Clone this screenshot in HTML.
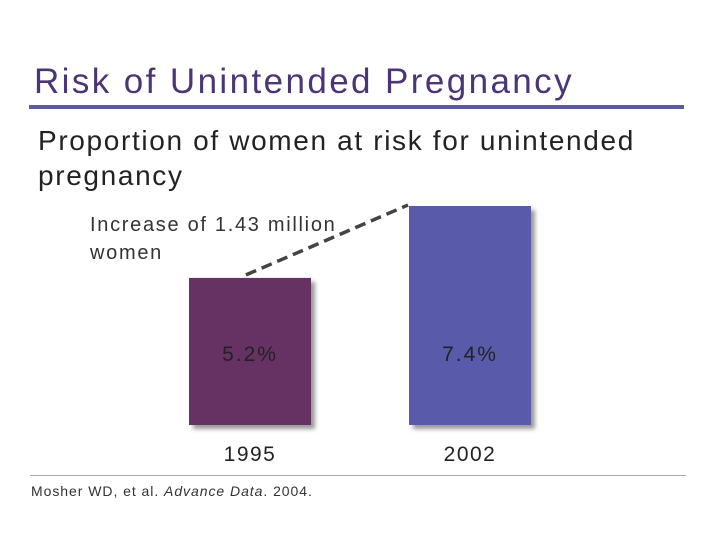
<!DOCTYPE html>
<html><head><meta charset="utf-8"><style>
body{margin:0;background:#fff;font-family:"Liberation Sans",sans-serif;}
#c{position:relative;width:720px;height:540px;overflow:hidden;background:#fff;}
.t{position:absolute;white-space:nowrap;}
</style></head><body>
<div id="c">
<div class="t" style="left:34px;top:62px;font-size:35px;letter-spacing:2.4px;color:#4b3577;">Risk of Unintended Pregnancy</div>
<div style="position:absolute;left:29px;top:105px;width:655px;height:4px;background:#5b5aa6;"></div>
<div class="t" style="left:38px;top:123px;font-size:28px;line-height:35px;letter-spacing:1.65px;color:#222;">Proportion of women at risk for unintended<br>pregnancy</div>
<div class="t" style="left:90px;top:211px;font-size:20px;line-height:28px;letter-spacing:1.7px;color:#333;">Increase of 1.43 million<br>women</div>
<svg id="chart" width="720" height="540" style="position:absolute;left:0;top:0">
<defs><filter id="sh" x="-10%" y="-10%" width="130%" height="130%"><feGaussianBlur stdDeviation="2"/></filter></defs>
</svg>
<div style="position:absolute;left:30px;top:475px;width:656px;height:1px;background:#aaa;"></div>
<div class="t" style="left:31px;top:483px;font-size:14px;letter-spacing:0.95px;color:#333;">Mosher WD, et al. <i>Advance Data</i>. 2004.</div>
</div>
<script>
const years=["1995","2002"];
const values=[5.2,7.4];
const valueLabels=["5.2%","7.4%"];
const svg=document.getElementById('chart');
const NS='http://www.w3.org/2000/svg';
const base=425, top0=206, vmin=0.7, vmax=7.4;
function y(v){return base-(v-vmin)/(vmax-vmin)*(base-top0);}
const xs=[189,409], bw=122, colors=["#663263","#5a5aab"];
const tops=[];
values.forEach((v,i)=>{
  const yt=y(v);tops.push(yt);
  const s=document.createElementNS(NS,'rect');
  s.setAttribute('x',xs[i]+4);s.setAttribute('y',yt+4);s.setAttribute('width',bw);s.setAttribute('height',base-yt);
  s.setAttribute('fill','#999');s.setAttribute('filter','url(#sh)');
  
  
  svg.appendChild(s);
  const r=document.createElementNS(NS,'rect');
  r.setAttribute('x',xs[i]);r.setAttribute('y',yt);r.setAttribute('width',bw);r.setAttribute('height',base-yt);
  r.setAttribute('fill',colors[i]);
  
  
  svg.appendChild(r);
  const t=document.createElementNS(NS,'text');
  t.setAttribute('x',xs[i]+61);t.setAttribute('y',361);t.setAttribute('text-anchor','middle');
  t.setAttribute('font-size','21');t.setAttribute('fill','#222');t.setAttribute('font-family','Liberation Sans, sans-serif');
  t.setAttribute('letter-spacing','2');
  t.textContent=valueLabels[i];
  
  
  svg.appendChild(t);
  const l=document.createElementNS(NS,'text');
  l.setAttribute('x',xs[i]+61);l.setAttribute('y',461);l.setAttribute('text-anchor','middle');
  l.setAttribute('font-size','21');l.setAttribute('fill','#222');l.setAttribute('font-family','Liberation Sans, sans-serif');
  l.setAttribute('letter-spacing','1.5');
  l.textContent=years[i];
  
  
  svg.appendChild(l);
});
const d=document.createElementNS(NS,'line');
d.setAttribute('x1',246);d.setAttribute('y1',tops[0]-3);d.setAttribute('x2',xs[1]-1);d.setAttribute('y2',tops[1]-1);
d.setAttribute('stroke','#444');d.setAttribute('stroke-width','3.5');d.setAttribute('stroke-dasharray','11 6');


svg.appendChild(d);
</script>
</body></html>
